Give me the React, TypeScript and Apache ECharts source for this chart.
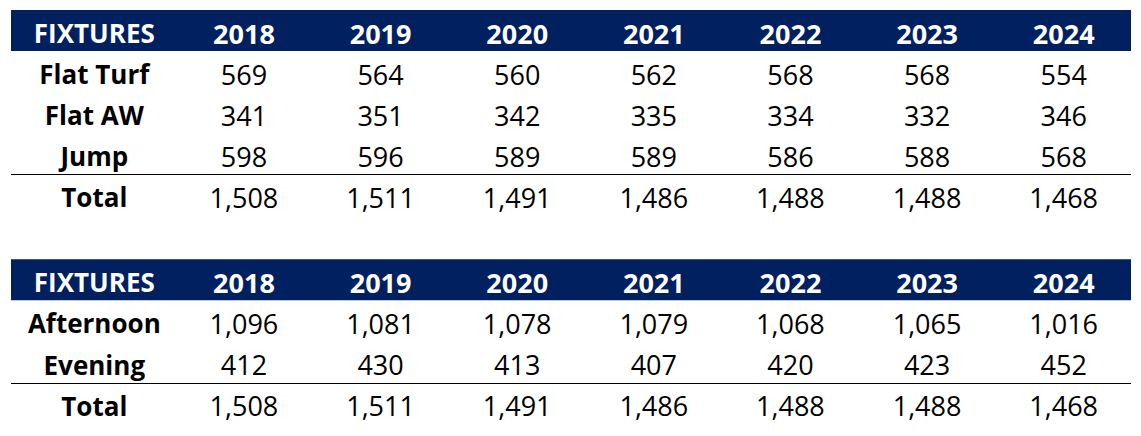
import React, { useEffect, useRef } from "react";
import * as echarts from "echarts";

const headerLabel = "FIXTURES";
const years = ["2018", "2019", "2020", "2021", "2022", "2023", "2024"];
const totalLabel = "Total";

const table1Rows = ["Flat Turf", "Flat AW", "Jump"];
const flatTurf = [569, 564, 560, 562, 568, 568, 554];
const flatAW = [341, 351, 342, 335, 334, 332, 346];
const jump = [598, 596, 589, 589, 586, 588, 568];
const total1 = [1508, 1511, 1491, 1486, 1488, 1488, 1468];

const table2Rows = ["Afternoon", "Evening"];
const afternoon = [1096, 1081, 1078, 1079, 1068, 1065, 1016];
const evening = [412, 430, 413, 407, 420, 423, 452];
const total2 = [1508, 1511, 1491, 1486, 1488, 1488, 1468];

const fmt = (v: number) => v.toLocaleString("en-US");

type Cell = { value: [number, number]; text: string; kind: string };

function buildCells(rowLabels: string[], rowValues: number[][], totals: number[]): Cell[] {
  const cells: Cell[] = [];
  const header = [headerLabel, ...years];
  header.forEach((t, c) => cells.push({ value: [c, 0], text: t, kind: "header" }));
  rowLabels.forEach((lab, r) => {
    cells.push({ value: [0, r + 1], text: lab, kind: "label" });
    rowValues[r].forEach((v, c) => cells.push({ value: [c + 1, r + 1], text: fmt(v), kind: "value" }));
  });
  const tr = rowLabels.length + 1;
  cells.push({ value: [0, tr], text: totalLabel, kind: "totalLabel" });
  totals.forEach((v, c) => cells.push({ value: [c + 1, tr], text: fmt(v), kind: "totalValue" }));
  return cells;
}

const cells1 = buildCells(table1Rows, [flatTurf, flatAW, jump], total1);
const cells2 = buildCells(table2Rows, [afternoon, evening], total2);

const FONT = "'Open Sans', 'Noto Sans', sans-serif";
const NAVY = "#002060";
const LABEL_SHIFT = -13;
const BAND_EXTRA_LEFT = 28;

function makeRenderItem(cells: Cell[]) {
  return (params: any, api: any) => {
    const cell = cells[params.dataIndex];
    const col = api.value(0);
    const row = api.value(1);
    const pt = api.coord([col, row]);
    const w = api.size([1, 0])[0];
    const children: any[] = [];
    if (cell.kind === "header" && col === 0) {
      children.push({
        type: "rect",
        shape: { x: pt[0] - w / 2 - BAND_EXTRA_LEFT, y: pt[1] - 23, width: w * 8 + BAND_EXTRA_LEFT - 1, height: 41 },
        style: { fill: NAVY },
      });
    }
    if (cell.kind === "totalLabel") {
      const y = Math.round(pt[1] - 23) + 0.5;
      children.push({
        type: "line",
        shape: { x1: pt[0] - w / 2 - BAND_EXTRA_LEFT, y1: y, x2: pt[0] - w / 2 + w * 8 - 1, y2: y },
        style: { stroke: "#000000", lineWidth: 1 },
      });
    }
    const bold = cell.kind === "header" || cell.kind === "label" || cell.kind === "totalLabel";
    const isNumeric = col !== 0;
    children.push({
      type: "text",
      x: col === 0 ? pt[0] + LABEL_SHIFT : pt[0],
      y: pt[1],
      style: {
        text: cell.text,
        align: "center",
        verticalAlign: "middle",
        fontFamily: FONT,
        fontSize: isNumeric ? 27 : 26,
        fontWeight: bold ? "bold" : "normal",
        fill: cell.kind === "header" ? "#ffffff" : "#000000",
      },
    });
    return { type: "group", children };
  };
}

const colCats = [headerLabel, ...years];
const rows1 = ["header", ...table1Rows, totalLabel];
const rows2 = ["header", ...table2Rows, totalLabel];

export default function App() {
  const ref = useRef<HTMLDivElement>(null);
  useEffect(() => {
    document.body.style.margin = "0";
    if (!ref.current) return;
    const chart = echarts.init(ref.current, undefined, { renderer: "svg" });
    chart.setOption({
      animation: false,
      backgroundColor: "#ffffff",
      grid: [
        { left: 39, width: 1093, top: 12.5, height: 205 },
        { left: 39, width: 1093, top: 261.5, height: 165 },
      ],
      xAxis: [
        { type: "category", data: colCats, gridIndex: 0, show: false },
        { type: "category", data: colCats, gridIndex: 1, show: false },
      ],
      yAxis: [
        { type: "category", data: rows1, gridIndex: 0, inverse: true, show: false },
        { type: "category", data: rows2, gridIndex: 1, inverse: true, show: false },
      ],
      series: [
        {
          type: "custom",
          xAxisIndex: 0,
          yAxisIndex: 0,
          data: cells1.map((c) => c.value),
          renderItem: makeRenderItem(cells1),
          silent: true,
        },
        {
          type: "custom",
          xAxisIndex: 1,
          yAxisIndex: 1,
          data: cells2.map((c) => c.value),
          renderItem: makeRenderItem(cells2),
          silent: true,
        },
      ],
    });
    return () => chart.dispose();
  }, []);
  return <div ref={ref} style={{ width: 1141, height: 436 }} />;
}
